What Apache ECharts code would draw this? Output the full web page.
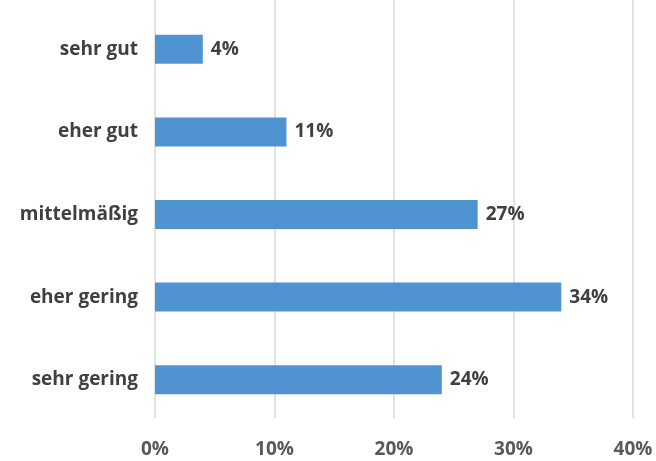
<!DOCTYPE html>
<html><head><meta charset="utf-8">
<script src="https://cdn.jsdelivr.net/npm/echarts@6/dist/echarts.min.js"></script>
<style>html,body{margin:0;padding:0;background:#fff}#c{width:656px;height:461px}</style>
</head><body><div id="c"></div>
<script>
const categories = ['sehr gut', 'eher gut', 'mittelmäßig', 'eher gering', 'sehr gering'];
const values = [4, 11, 27, 34, 24];
const tickValues = [0, 10, 20, 30, 40];

const font = '"Open Sans", sans-serif';
const chart = echarts.init(document.getElementById('c'), null, {renderer: 'canvas'});
chart.setOption({
  animation: false,
  grid: [
    {left: 155, right: 23, top: 8, bottom: 40, containLabel: false},
    {left: 155, right: 23, top: 0, bottom: 43, containLabel: false}
  ],
  xAxis: [
    {gridIndex: 0, type: 'value', min: 0, max: 40, interval: 10,
     axisLine: {show: false}, axisTick: {show: false}, splitLine: {show: false},
     axisLabel: {show: false}},
    {gridIndex: 1, type: 'value', min: 0, max: 40, interval: 10,
     axisLine: {show: false}, axisTick: {show: false},
     splitLine: {show: true, lineStyle: {color: '#d9d9d9', width: 1.5}},
     axisLabel: {show: true, margin: 22, formatter: v => tickValues.includes(v) ? v + '%' : '',
       fontFamily: font, fontWeight: 'bold', fontSize: 19, color: '#595959'}}
  ],
  yAxis: [
    {gridIndex: 0, type: 'category', data: categories, inverse: true,
     axisLine: {show: false}, axisTick: {show: false},
     axisLabel: {margin: 17, fontFamily: font, fontWeight: 'bold', fontSize: 19, color: '#404040'}},
    {gridIndex: 1, type: 'category', data: categories, show: false}
  ],
  series: [{
    type: 'bar', xAxisIndex: 0, yAxisIndex: 0, data: values, barWidth: 29,
    itemStyle: {color: '#4f94d1'},
    label: {show: true, position: 'right', distance: 8, formatter: p => p.value + '%',
      fontFamily: font, fontWeight: 'bold', fontSize: 19, color: '#404040'}
  }]
});
</script></body></html>
